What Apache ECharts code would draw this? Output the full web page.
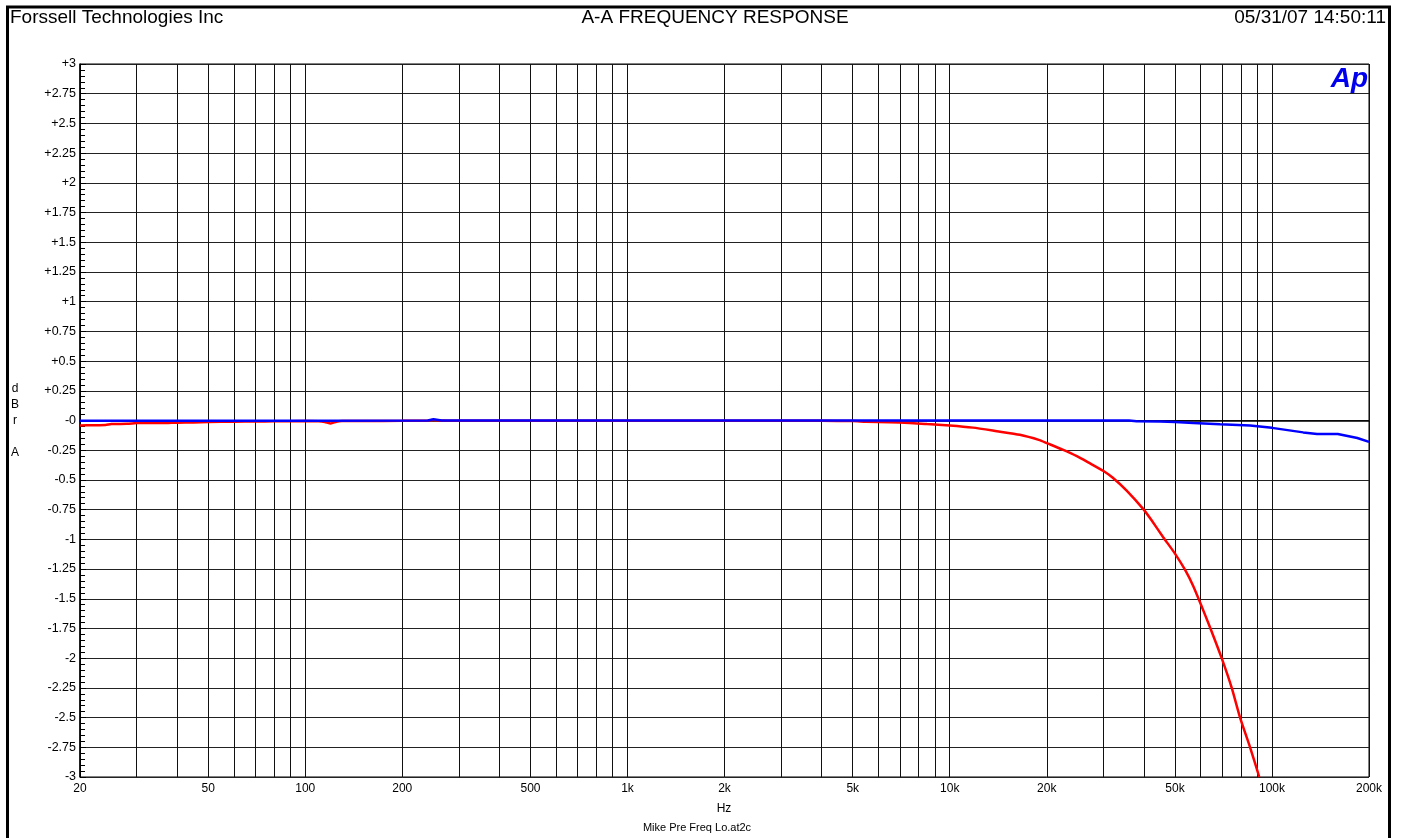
<!DOCTYPE html>
<html>
<head>
<meta charset="utf-8">
<script src="https://cdn.jsdelivr.net/npm/echarts@6/dist/echarts.min.js"></script>
<style>
  html, body { margin: 0; background: #fff; }
  #chart { width: 1404px; height: 838px; }
</style>
</head>
<body>
<div id="chart"></div>
<script>
// x axis label values (Hz)
const labelFreqs = [20, 50, 100, 200, 500, 1000, 2000, 5000, 10000, 20000, 50000, 100000, 200000];

// red trace (channel A)
const redFreq = [20, 22, 24, 25, 28, 30, 33, 36, 40, 45, 50, 60, 70, 80, 100, 110, 115, 120, 125, 130, 150, 200, 240, 250, 260, 300, 500, 1000, 2000, 4000, 5000, 5500, 6500, 7500, 8500, 10000, 11800, 14000, 16500, 19000, 20000, 22400, 24800, 27000, 30000, 32000, 35400, 40000, 42300, 45900, 50000, 53800, 56900, 60000, 64200, 69800, 75000, 79600, 85500, 91300];
const redDb = [-0.042, -0.04, -0.038, -0.03, -0.028, -0.022, -0.02, -0.022, -0.018, -0.016, -0.012, -0.01, -0.008, -0.007, -0.005, -0.006, -0.012, -0.025, -0.01, -0.005, -0.004, -0.003, -0.002, 0.005, 0, -0.002, -0.002, -0.002, -0.002, -0.003, -0.005, -0.01, -0.014, -0.02, -0.03, -0.042, -0.06, -0.09, -0.12, -0.165, -0.19, -0.245, -0.3, -0.355, -0.425, -0.48, -0.59, -0.75, -0.84, -0.98, -1.12, -1.26, -1.39, -1.54, -1.74, -2.0, -2.25, -2.5, -2.75, -3.0];

// blue trace (channel B)
const blueFreq = [20, 100, 240, 250, 265, 1000, 10000, 30000, 36000, 38000, 45000, 50000, 57000, 69000, 85500, 100000, 125000, 138000, 160000, 184000, 200000];
const blueDb = [-0.003, -0.002, 0, 0.01, 0, 0, 0, 0, 0, -0.006, -0.008, -0.012, -0.02, -0.031, -0.042, -0.062, -0.1, -0.113, -0.113, -0.147, -0.18];

// vertical grid lines: 1..9 per decade
const gridFreqs = [];
for (let d = 10; d <= 100000; d *= 10) {
    for (let m = 1; m <= 9; m++) {
        const f = m * d;
        if (f >= 20 && f <= 200000) gridFreqs.push(f);
    }
}

const FONT = 'Arial, "Liberation Sans", sans-serif';

function fmtHz(v) {
    const f = Math.round(Math.pow(10, v));
    return f >= 1000 ? (f / 1000) + 'k' : String(f);
}

function fmtDb(v) {
    if (Math.abs(v) < 1e-9) return '-0';
    return v > 0 ? '+' + v : String(v);
}

function txt(text, x, y, size, align) {
    return {
        type: 'text',
        x: x,
        y: y,
        silent: true,
        style: {
            text: text,
            font: size + 'px ' + FONT,
            fill: '#000',
            textAlign: align,
            align: align,
            textVerticalAlign: 'middle',
            verticalAlign: 'middle'
        }
    };
}

const chart = echarts.init(document.getElementById('chart'));

const option = {
    animation: false,
    backgroundColor: '#fff',
    grid: {
        left: 80,
        right: 35,
        top: 64,
        bottom: 61,
        show: true,
        borderColor: '#000',
        borderWidth: 1
    },
    xAxis: {
        type: 'value',
        min: Math.log10(20),
        max: Math.log10(200000),
        axisLine: { show: true, lineStyle: { color: '#000', width: 1.5 } },
        axisTick: { show: false, customValues: gridFreqs.map(Math.log10) },
        axisLabel: {
            customValues: labelFreqs.map(Math.log10),
            formatter: fmtHz,
            color: '#000',
            fontFamily: FONT,
            fontSize: 12,
            margin: 6
        },
        splitLine: { show: true, lineStyle: { color: '#111', width: 1 } }
    },
    yAxis: {
        type: 'value',
        min: -3,
        max: 3,
        interval: 0.25,
        axisLine: { show: true, lineStyle: { color: '#000', width: 1.5 } },
        axisTick: { show: true, inside: true, length: 6, lineStyle: { color: '#000' } },
        minorTick: { show: true, splitNumber: 5, length: 5, lineStyle: { color: '#000' } },
        axisLabel: {
            formatter: fmtDb,
            color: '#000',
            fontFamily: FONT,
            fontSize: 12.5,
            margin: 4
        },
        splitLine: { show: true, lineStyle: { color: '#222', width: 1 } }
    },
    series: [
        {
            name: 'A',
            type: 'line',
            showSymbol: false,
            smooth: 0.2,
            data: redFreq.map((f, i) => [Math.log10(f), redDb[i]]),
            lineStyle: { color: '#ff0000', width: 2.5 },
            clip: true,
            z: 3
        },
        {
            name: 'B',
            type: 'line',
            showSymbol: false,
            data: blueFreq.map((f, i) => [Math.log10(f), blueDb[i]]),
            lineStyle: { color: '#0000ff', width: 2.5 },
            clip: true,
            z: 4
        }
    ],
    graphic: [
        {
            type: 'rect',
            silent: true,
            shape: { x: 7.5, y: 7, width: 1382, height: 900 },
            style: { fill: 'none', stroke: '#000', lineWidth: 3 }
        },
        txt('Forssell Technologies Inc', 10, 18, 19, 'left'),
        txt('A-A FREQUENCY RESPONSE', 715, 18, 19, 'center'),
        txt('05/31/07 14:50:11', 1386, 18, 19, 'right'),
        txt('Hz', 724, 809, 12, 'center'),
        txt('Mike Pre Freq Lo.at2c', 697, 828, 11, 'center'),
        {
            type: 'text',
            x: 15,
            y: 381,
            silent: true,
            style: {
                text: 'd\nB\nr\n\nA',
                font: '12px ' + FONT,
                fill: '#000',
                textAlign: 'center',
                align: 'center',
                textVerticalAlign: 'top',
                verticalAlign: 'top',
                lineHeight: 16
            }
        },
        {
            type: 'text',
            x: 1368,
            y: 65,
            silent: true,
            z: 10,
            style: {
                text: 'Ap',
                font: 'italic 900 28px ' + FONT,
                fill: '#0000ee',
                textAlign: 'right',
                align: 'right',
                textVerticalAlign: 'top',
                verticalAlign: 'top'
            }
        }
    ]
};

chart.setOption(option);
window.onresize = function () {
    chart.resize();
};
</script>
</body>
</html>
